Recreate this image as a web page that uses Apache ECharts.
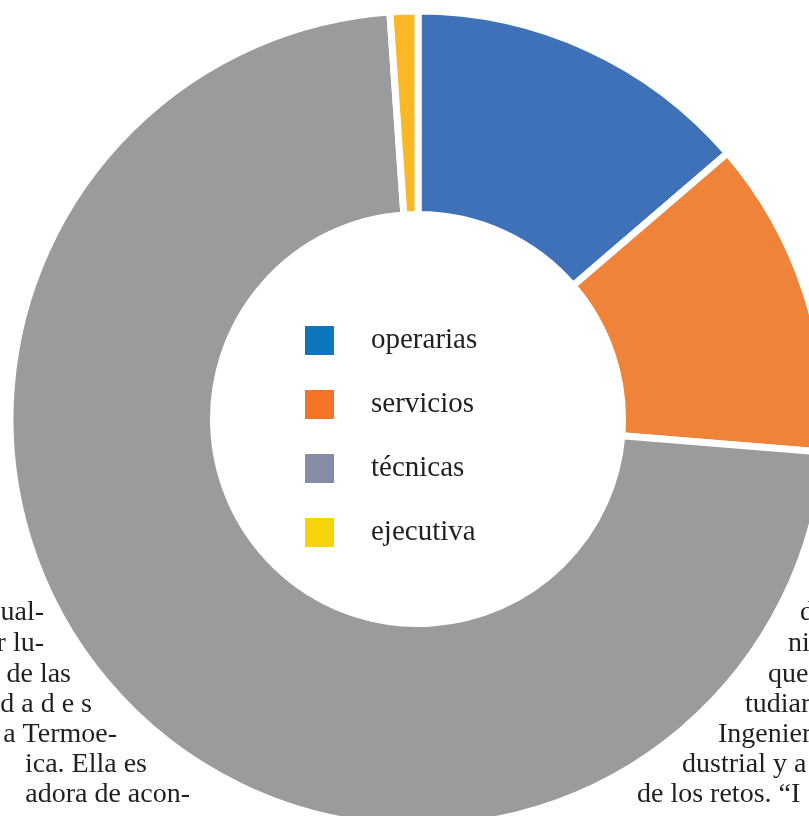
<!DOCTYPE html>
<html>
<head>
<meta charset="utf-8">
<script src="https://cdn.jsdelivr.net/npm/echarts@6/dist/echarts.min.js"></script>
<style>
  html, body { margin: 0; padding: 0; background: #fff; }
  #chart { width: 809px; height: 816px; }
</style>
</head>
<body>
<div id="chart"></div>
<script>
// categories and shares (%), read clockwise from 12 o'clock
const categories = ['operarias', 'servicios', 'técnicas', 'ejecutiva'];
const shares = [13.7, 12.6, 72.6, 1.1];
const sliceColors = ['#3f71b8', '#f0833a', '#999b9c', '#fab924'];
const legendColors = ['#0e75bf', '#f47324', '#878ca6', '#f6d30d'];

// body text of the page that wraps around the chart
const leftLines = ['ual-', 'r lu-', 'de las', 'd a d e s', 'a Termoe-', 'ica. Ella es', 'adora de acon-'];
const leftEnds = [44, 44, 71, 92, 117, 147, 190];
const rightLines = ['d', 'ni', 'que', 'tudiar', 'Ingenier', 'dustrial y a', 'de los retos. \u201cI'];
const rightStarts = [800, 788, 768, 745, 718, 682, 637];
const lineY = [613, 644, 675, 705, 735, 765, 795];

const serif = '"Liberation Serif", "DejaVu Serif", serif';
const ink = '#231f20';

const chart = echarts.init(document.getElementById('chart'));

const bodyText = [];
leftLines.forEach((t, i) => {
    bodyText.push({
        type: 'text', z: 0, silent: true,
        style: { text: t, x: leftEnds[i], y: lineY[i], align: 'right', verticalAlign: 'middle',
                 font: '28px ' + serif, fill: ink }
    });
});
rightLines.forEach((t, i) => {
    bodyText.push({
        type: 'text', z: 0, silent: true,
        style: { text: t, x: rightStarts[i], y: lineY[i], align: 'left', verticalAlign: 'middle',
                 font: '28px ' + serif, fill: ink }
    });
});

chart.setOption({
    animation: false,
    backgroundColor: '#fff',
    legend: {
        orient: 'vertical',
        left: 300,
        top: 321,
        itemWidth: 29,
        itemHeight: 29,
        itemGap: 35,
        icon: 'rect',
        selectedMode: false,
        textStyle: { fontFamily: serif, fontSize: 29, color: ink, padding: [4, 0, 0, 32] },
        data: categories.map((c, i) => ({
            name: c,
            itemStyle: { color: legendColors[i], borderWidth: 0 }
        }))
    },
    graphic: bodyText,
    series: [{
        type: 'pie',
        center: [418, 419],
        radius: [204.5, 408],
        startAngle: 90,
        clockwise: true,
        label: { show: false },
        labelLine: { show: false },
        emphasis: { disabled: true },
        itemStyle: { borderColor: '#fff', borderWidth: 7 },
        data: categories.map((c, i) => ({ name: c, value: shares[i], itemStyle: { color: sliceColors[i] } }))
    }]
});
</script>
</body>
</html>
